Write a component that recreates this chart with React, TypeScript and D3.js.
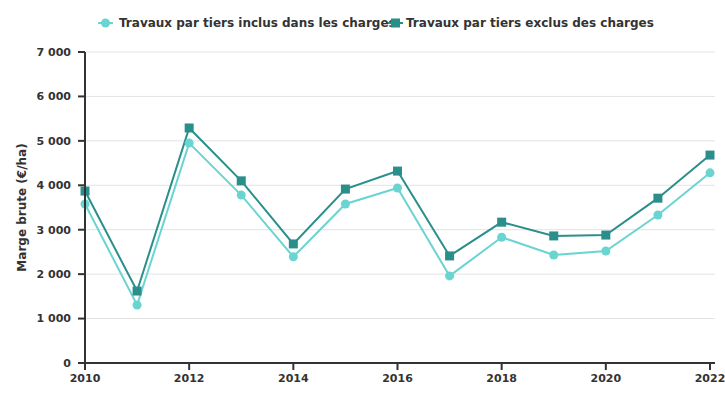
import React from "react";
import * as d3 from "d3";

const years = [2010, 2011, 2012, 2013, 2014, 2015, 2016, 2017, 2018, 2019, 2020, 2021, 2022];
const inclus = [3580, 1305, 4950, 3780, 2390, 3580, 3940, 1960, 2830, 2430, 2520, 3330, 4280];
const exclus = [3870, 1620, 5290, 4100, 2680, 3915, 4320, 2410, 3170, 2860, 2880, 3710, 4680];
const yTicks = [0, 1000, 2000, 3000, 4000, 5000, 6000, 7000];
const xTicks = [2010, 2012, 2014, 2016, 2018, 2020, 2022];
const seriesNames = ["Travaux par tiers inclus dans les charges", "Travaux par tiers exclus des charges"];

const W = 725, H = 400;
const FONT = "DejaVu Sans, Verdana, sans-serif";
const C1 = "#6ad4d1";
const C2 = "#2a8f8b";

export default function App() {
  const x = d3.scaleLinear().domain([2010, 2022]).range([85, 710]);
  const y = d3.scaleLinear().domain([0, 7000]).range([363, 52]);
  const line = d3.line<number>().x((_, i) => x(years[i])).y((d) => y(d));
  const fmt = (v: number) => d3.format(",")(v).replace(/,/g, " ");

  return (
    <svg width={W} height={H} style={{ position: "absolute", left: 0, top: 0, background: "#fff" }} fontFamily={FONT}>
      {yTicks.map((t) => (
        <line key={"g" + t} x1={85} x2={715} y1={y(t)} y2={y(t)} stroke="#e3e3e3" strokeWidth={1} />
      ))}
      <path d={line(inclus) || ""} fill="none" stroke={C1} strokeWidth={2} />
      <path d={line(exclus) || ""} fill="none" stroke={C2} strokeWidth={2} />
      {inclus.map((v, i) => (
        <circle key={"c" + i} cx={x(years[i])} cy={y(v)} r={4.5} fill={C1} />
      ))}
      {exclus.map((v, i) => (
        <rect key={"r" + i} x={x(years[i]) - 4.5} y={y(v) - 4.5} width={9} height={9} fill={C2} />
      ))}
      {/* axes */}
      <line x1={85} x2={85} y1={52} y2={363} stroke="#333" strokeWidth={2} />
      <line x1={78} x2={715} y1={363} y2={363} stroke="#333" strokeWidth={2} />
      {yTicks.map((t) => (
        <g key={"yt" + t}>
          <line x1={78} x2={85} y1={y(t)} y2={y(t)} stroke="#333" strokeWidth={2} />
          <text x={71} y={y(t)} dy="0.35em" textAnchor="end" fontSize={11} fontWeight="bold" fill="#333">
            {fmt(t)}
          </text>
        </g>
      ))}
      {xTicks.map((t) => (
        <g key={"xt" + t}>
          <line x1={x(t)} x2={x(t)} y1={363} y2={370} stroke="#333" strokeWidth={2} />
          <text x={x(t)} y={382} textAnchor="middle" fontSize={11} fontWeight="bold" fill="#333">
            {t}
          </text>
        </g>
      ))}
      <text transform={`translate(26,${(52 + 363) / 2}) rotate(-90)`} textAnchor="middle" fontSize={12} fontWeight="bold" fill="#333">
        Marge brute (€/ha)
      </text>
      {/* legend */}
      <g>
        <line x1={98} x2={113} y1={23} y2={23} stroke={C1} strokeWidth={2} />
        <circle cx={105.5} cy={23} r={4.5} fill={C1} />
        <text x={119} y={23} dy="0.35em" fontSize={12} fontWeight="bold" fill="#333">{seriesNames[0]}</text>
        <line x1={388} x2={403} y1={23} y2={23} stroke={C2} strokeWidth={2} />
        <rect x={391} y={18.5} width={9} height={9} fill={C2} />
        <text x={406} y={23} dy="0.35em" fontSize={12} fontWeight="bold" fill="#333">{seriesNames[1]}</text>
      </g>
    </svg>
  );
}
